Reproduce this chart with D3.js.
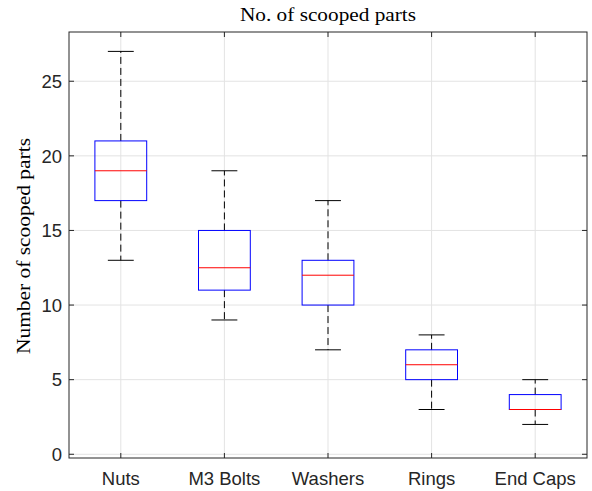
<!DOCTYPE html>
<html><head><meta charset="utf-8">
<script src="https://cdn.jsdelivr.net/npm/d3@7"></script>
<style>body{margin:0;background:#fff}svg{display:block}</style>
</head><body>
<svg id="c" width="592" height="491"></svg>
<script>
const categories = ["Nuts", "M3 Bolts", "Washers", "Rings", "End Caps"];
const whiskerLow  = [13, 9, 7, 3, 2];
const q1          = [17, 11, 10, 5, 3];
const median      = [19, 12.5, 12, 6, 3];
const q3          = [21, 15, 13, 7, 4];
const whiskerHigh = [27, 19, 17, 8, 5];
const yTicks = [0, 5, 10, 15, 20, 25];
const titleText = "No. of scooped parts";
const yLabelText = "Number of scooped parts";

const svg = d3.select("#c");
const L = 69, R = 587, T = 32, B = 458;
const x = d3.scaleLinear().domain([0.5, 5.5]).range([L, R]);
const y = d3.scaleLinear().domain([-0.25, 28.3]).range([B, T]);
const axisColor = "#262626";

// grid
const g = svg.append("g");
g.selectAll(".gx").data(categories).enter().append("line")
  .attr("x1", (d,i)=>x(i+1)).attr("x2", (d,i)=>x(i+1))
  .attr("y1", T).attr("y2", B).attr("stroke", "#e3e3e3").attr("stroke-width", 1);
g.selectAll(".gy").data(yTicks).enter().append("line")
  .attr("x1", L).attr("x2", R).attr("y1", d=>y(d)).attr("y2", d=>y(d))
  .attr("stroke", "#e3e3e3").attr("stroke-width", 1);

// boxes
const data = categories.map((c,i)=>({c, i:i+1, lo:whiskerLow[i], q1:q1[i], med:median[i], q3:q3[i], hi:whiskerHigh[i]}));
const bw = x(1.25) - x(1);
const cw = x(1.125) - x(1);
const bx = svg.append("g");
data.forEach(d=>{
  const cx = x(d.i);
  bx.append("line").attr("x1", cx).attr("x2", cx).attr("y1", y(d.q3)).attr("y2", y(d.hi))
    .attr("stroke", "#000").attr("stroke-width", 1).attr("stroke-dasharray", "7,4");
  bx.append("line").attr("x1", cx).attr("x2", cx).attr("y1", y(d.q1)).attr("y2", y(d.lo))
    .attr("stroke", "#000").attr("stroke-width", 1).attr("stroke-dasharray", "7,4");
  bx.append("line").attr("x1", cx-cw).attr("x2", cx+cw).attr("y1", y(d.hi)).attr("y2", y(d.hi))
    .attr("stroke", "#000").attr("stroke-width", 1);
  bx.append("line").attr("x1", cx-cw).attr("x2", cx+cw).attr("y1", y(d.lo)).attr("y2", y(d.lo))
    .attr("stroke", "#000").attr("stroke-width", 1);
  bx.append("rect").attr("x", cx-bw).attr("width", 2*bw)
    .attr("y", y(d.q3)).attr("height", y(d.q1)-y(d.q3))
    .attr("fill", "none").attr("stroke", "#0000ff").attr("stroke-width", 1);
  bx.append("line").attr("x1", cx-bw).attr("x2", cx+bw).attr("y1", y(d.med)).attr("y2", y(d.med))
    .attr("stroke", "#ff0000").attr("stroke-width", 1);
});

// axes box
svg.append("rect").attr("x", L).attr("y", T).attr("width", R-L).attr("height", B-T)
  .attr("fill", "none").attr("stroke", axisColor).attr("stroke-width", 1);

// ticks inward
const tk = svg.append("g").attr("stroke", axisColor).attr("stroke-width", 1);
yTicks.forEach(v=>{
  tk.append("line").attr("x1", L).attr("x2", L+5).attr("y1", y(v)).attr("y2", y(v));
  tk.append("line").attr("x1", R).attr("x2", R-5).attr("y1", y(v)).attr("y2", y(v));
});
categories.forEach((c,i)=>{
  tk.append("line").attr("x1", x(i+1)).attr("x2", x(i+1)).attr("y1", B).attr("y2", B-5);
  tk.append("line").attr("x1", x(i+1)).attr("x2", x(i+1)).attr("y1", T).attr("y2", T+5);
});

// tick labels
svg.append("g").selectAll("text").data(yTicks).enter().append("text")
  .attr("x", L-7).attr("y", d=>y(d)).attr("dy", "0.36em").attr("text-anchor", "end")
  .attr("font-family", "Liberation Sans, Arial, sans-serif").attr("font-size", 18.5)
  .attr("fill", axisColor).text(d=>d);
svg.append("g").selectAll("text").data(categories).enter().append("text")
  .attr("x", (d,i)=>x(i+1)).attr("y", 485).attr("text-anchor", "middle")
  .attr("font-family", "Liberation Sans, Arial, sans-serif").attr("font-size", 18.5)
  .attr("fill", axisColor).text(d=>d);

// title and label
svg.append("text").attr("x", (L+R)/2).attr("y", 21).attr("text-anchor", "middle")
  .attr("font-family", "Liberation Serif, Times New Roman, serif").attr("font-size", 18)
  .attr("textLength", 176).attr("lengthAdjust", "spacingAndGlyphs")
  .attr("fill", "#000").text(titleText);
svg.append("text").attr("transform", `translate(30,246) rotate(-90)`)
  .attr("text-anchor", "middle")
  .attr("font-family", "Liberation Serif, Times New Roman, serif").attr("font-size", 18)
  .attr("textLength", 216).attr("lengthAdjust", "spacingAndGlyphs")
  .attr("fill", "#000").text(yLabelText);
</script>
</body></html>
